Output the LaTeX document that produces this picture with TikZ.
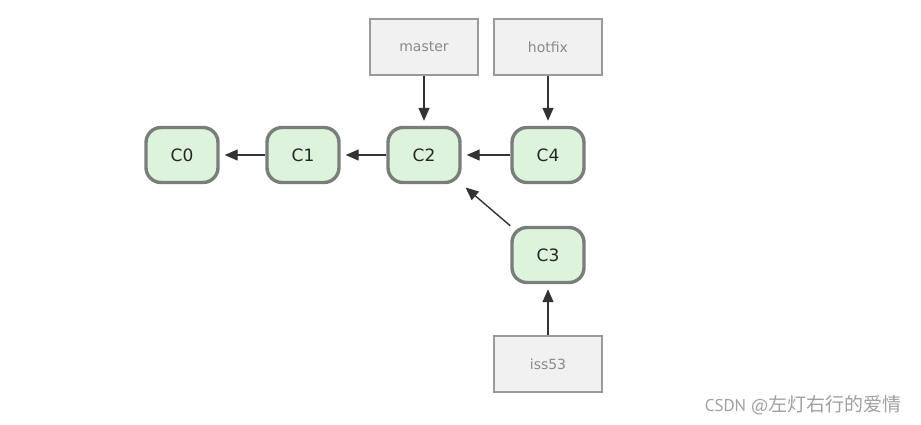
\documentclass[tikz,border=0pt]{standalone}
\usepackage{fontspec}
\setmainfont{DejaVu Sans}
\newfontfamily\markfont{PT Sans}
\newfontfamily\cjk{Noto Sans CJK SC}
\usetikzlibrary{arrows.meta}
\definecolor{commitfill}{HTML}{DDF3DC}
\definecolor{commitdraw}{HTML}{7A7E7A}
\definecolor{branchfill}{HTML}{F1F1F1}
\definecolor{branchdraw}{HTML}{9A9A9A}
\definecolor{branchtext}{HTML}{8A8A8A}
\definecolor{marktext}{HTML}{A0A0A0}
\tikzset{
  commit/.style={draw=commitdraw, line width=3.4pt, fill=commitfill, rounded corners=15pt,
    minimum width=72pt, minimum height=55pt, inner sep=0pt, font=\fontsize{17}{19}\selectfont, text=black!85},
  branch/.style={draw=branchdraw, line width=1.8pt, fill=branchfill,
    minimum width=108pt, minimum height=56pt, inner sep=0pt, font=\fontsize{14}{16}\selectfont, text=branchtext},
  link/.style={draw=black!80, line width=1.4pt, -{Triangle[length=13pt,width=11pt]}, shorten >=5pt}
}
\begin{document}
\begin{tikzpicture}[x=1pt,y=-1pt]
\useasboundingbox (0,0) rectangle (921,424);
\node[commit] (c0) at (182,155) {C0};
\node[commit] (c1) at (303,155) {C1};
\node[commit] (c2) at (424,155) {C2};
\node[commit] (c4) at (548,155) {C4};
\node[commit] (c3) at (548,255) {C3};
\node[branch] (master) at (424,47) {master};
\node[branch] (hotfix) at (548,47) {hotfix};
\node[branch] (iss53) at (548,364) {iss53};
\draw[link] (c1) -- (c0);
\draw[link] (c2) -- (c1);
\draw[link] (c4) -- (c2);
\draw[link] (c3.north west) -- (c2.south east);
\draw[link] (master) -- (c2);
\draw[link] (hotfix) -- (c4);
\draw[link] (iss53) -- (c3);
\node[anchor=east, text=marktext, inner sep=0pt] (mark) at (902,405) {{\markfont\fontsize{17}{19}\selectfont CSDN @}{\cjk\fontsize{19}{21}\selectfont 左灯右行的爱情}};
\end{tikzpicture}
\end{document}
